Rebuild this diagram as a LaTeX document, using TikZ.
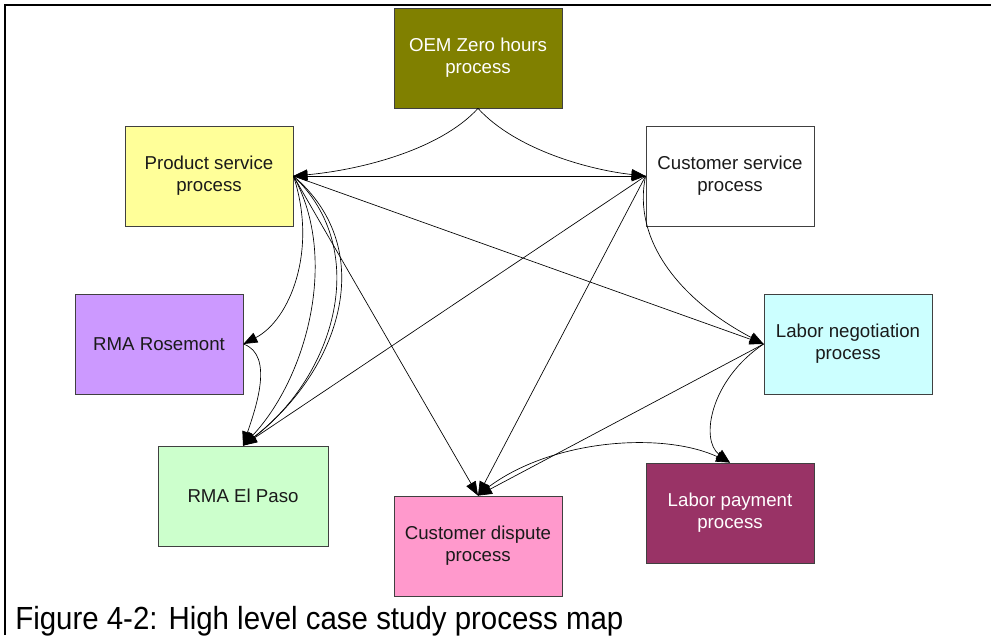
\documentclass[tikz,border=0pt]{standalone}
\usepackage{fontspec}
\usepackage{graphicx}
\setmainfont{Liberation Sans}
\usetikzlibrary{arrows.meta}
\definecolor{oemfill}{HTML}{808000}
\definecolor{prodfill}{HTML}{FFFF99}
\definecolor{rosefill}{HTML}{CC99FF}
\definecolor{negfill}{HTML}{CCFFFF}
\definecolor{elpfill}{HTML}{CCFFCC}
\definecolor{dispfill}{HTML}{FF99CC}
\definecolor{payfill}{HTML}{993366}
\definecolor{boxtext}{HTML}{1A1A1A}
\begin{document}
\begin{tikzpicture}[x=0.75pt,y=-0.75pt,
  procbox/.style={draw=black!75, line width=0.6pt, minimum width=126pt,
    minimum height=75pt, align=center, inner sep=0pt, text=boxtext,
    font=\fontsize{14}{16.5}\selectfont},
  link/.style={line width=0.5pt, -{Triangle[length=10.5pt,width=8pt]}},
]
\useasboundingbox (0,0) rectangle (991,635);
% page frame
\draw[line width=1.5pt] (5,635) -- (5,5) -- (991,5);

% process boxes
\node[procbox, fill=oemfill, text=white] (oem) at (478,58) {OEM Zero hours\\process};
\node[procbox, fill=prodfill] (prod) at (209,176) {Product service\\process};
\node[procbox, fill=white] (cust) at (730,176) {Customer service\\process};
\node[procbox, fill=rosefill] (rose) at (159,344) {RMA Rosemont};
\node[procbox, fill=negfill] (neg) at (848,344) {Labor negotiation\\process};
\node[procbox, fill=elpfill, minimum width=127.5pt] (elp) at (243,496) {RMA El Paso};
\node[procbox, fill=dispfill] (disp) at (478,546) {Customer dispute\\process};
\node[procbox, fill=payfill, text=white] (pay) at (730,513) {Labor payment\\process};

% flows out of the OEM process
\draw[link] (oem.south) .. controls (440,150) and (360,170) .. (prod.east);
\draw[link] (oem.south) .. controls (516,150) and (590,170) .. (cust.west);

% straight flows
\draw[link] (prod.east) -- (cust.west);
\draw[link] (cust.west) -- (prod.east);
\draw[link] (prod.east) -- (neg.west);
\draw[link] (prod.east) -- (disp.north);
\draw[link] (cust.west) -- (elp.north);
\draw[link] (cust.west) -- (disp.north);
\draw[link] (neg.west) -- (disp.north);

% curved flows
\draw[link] (cust.west) .. controls (632,240) and (680,300) .. (neg.west);
\draw[link] (prod.east) .. controls (318,250) and (290,320) .. (rose.east);
\draw[link] (prod.east) .. controls (340,260) and (305,380) .. (elp.north);
\draw[link] (prod.east) .. controls (372,250) and (335,375) .. (elp.north);
\draw[link] (prod.east) .. controls (380,250) and (340,370) .. (elp.north);
\draw[link] (rose.east) .. controls (275,355) and (255,410) .. (elp.north);
\draw[link] (neg.west) .. controls (710,380) and (700,440) .. (pay.north);
\draw[link] (disp.north) .. controls (540,440) and (660,430) .. (pay.north);

% caption
\node[anchor=base west, inner sep=0pt] (cap) at (15,629)
  {\scalebox{0.92}[1]{\fontsize{24}{28}\selectfont Figure 4-2: High level case study process map}};
\end{tikzpicture}
\end{document}
